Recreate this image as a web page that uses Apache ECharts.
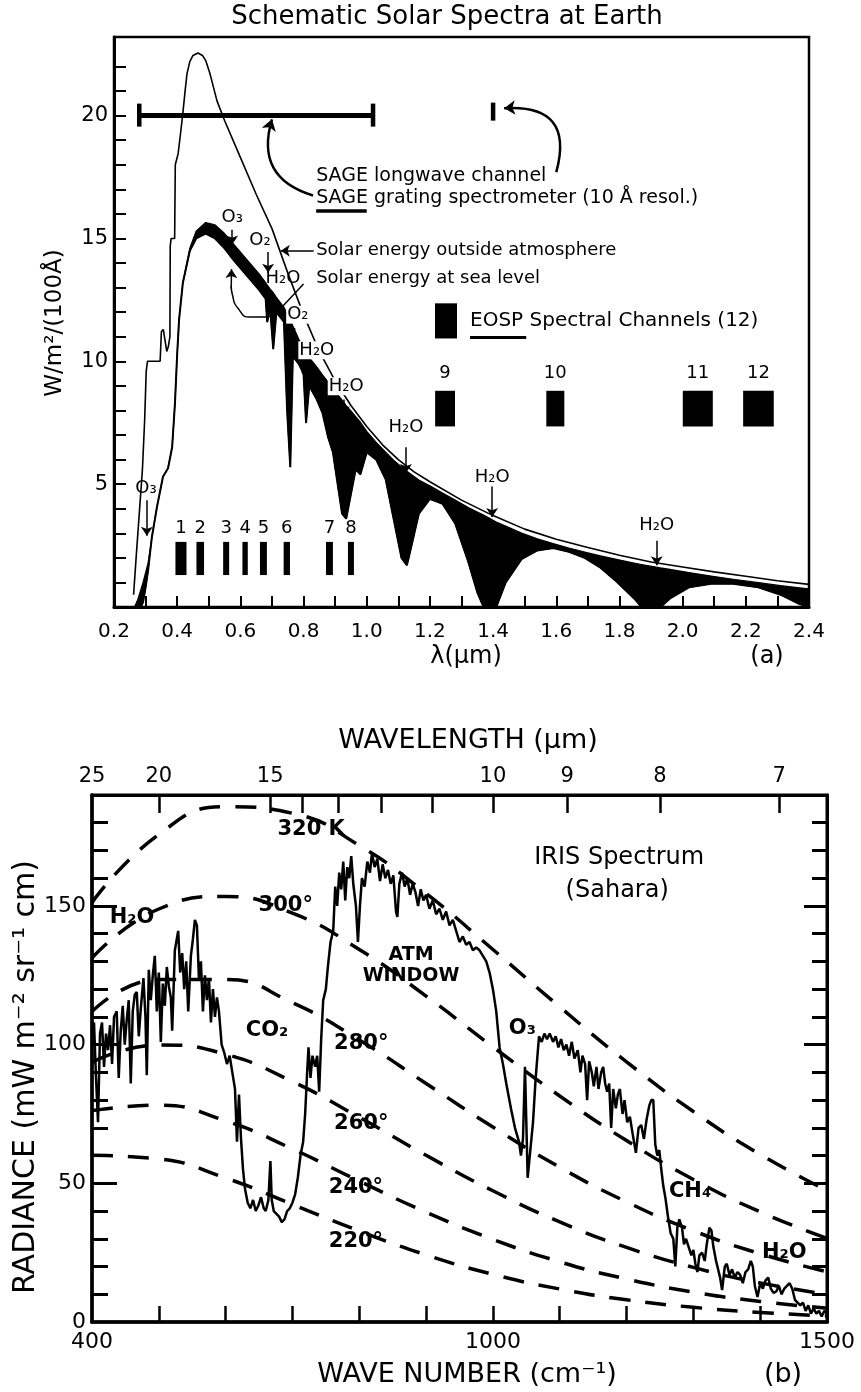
<!DOCTYPE html>
<html>
<head>
<meta charset="utf-8">
<script src="https://cdn.jsdelivr.net/npm/echarts@6.0.0/dist/echarts.min.js"></script>
<style>
html,body{margin:0;padding:0;background:#fff;}
#chart{width:861px;height:1392px;}
</style>
</head>
<body>
<div id="chart"></div>
<script>
// ================= Panel (a): Schematic Solar Spectra at Earth =================
const topXTicks = [0.3,0.4,0.5,0.6,0.7,0.8,0.9,1.0,1.1,1.2,1.3,1.4,1.5,1.6,1.7,1.8,1.9,2.0,2.1,2.2,2.3];
const topXLabels = [0.2,0.4,0.6,0.8,1.0,1.2,1.4,1.6,1.8,2.0,2.2,2.4];
const topYTicks = [1,2,3,4,5,6,7,8,9,10,11,12,13,14,15,16,17,18,19,20,21,22];
const topYLabels = [5,10,15,20];

// solar energy outside atmosphere [wavelength um, W/m2/100A]
const outsideAtmosphere = [
  [0.262,0.5],[0.270,2.0],[0.280,3.8],[0.290,5.6],[0.297,7.6],[0.302,9.6],[0.306,10.0],[0.346,10.0],
  [0.350,11.2],[0.356,11.3],[0.362,11.3],[0.367,10.4],[0.372,10.6],[0.377,11.0],[0.378,14.7],[0.381,15.0],
  [0.392,15.0],[0.394,18.0],[0.403,18.45],[0.410,19.2],[0.418,20.1],[0.425,21.0],[0.431,21.7],[0.440,22.2],
  [0.450,22.45],[0.466,22.55],[0.480,22.45],[0.490,22.25],[0.504,21.7],[0.526,20.6],[0.55,19.8],[0.60,18.3],
  [0.65,16.8],[0.70,15.4],[0.75,13.6],[0.80,11.9],[0.85,10.4],[0.90,9.2],[0.95,8.2],[1.00,7.35],[1.05,6.6],
  [1.10,6.0],[1.15,5.5],[1.20,5.1],[1.30,4.35],[1.40,3.72],[1.50,3.17],[1.60,2.76],[1.70,2.42],[1.80,2.11],
  [1.90,1.83],[2.00,1.63],[2.10,1.43],[2.20,1.25],[2.30,1.07],[2.40,0.92]
];

// solar energy at sea level: [wavelength, sea-level value, unabsorbed envelope]
const seaLevelSpectrum = [
  [0.265,0,0],[0.275,0,0.3],[0.285,0,0.7],[0.292,0.2,1.0],[0.300,0.8,1.4],[0.308,1.5,1.8],[0.315,2.3,2.4],
  [0.320,2.85,2.85],[0.336,4.07,4.07],[0.355,5.3,5.3],[0.371,5.65,5.65],[0.384,6.5,6.5],[0.393,8.3,8.3],
  [0.400,10.3,10.3],[0.406,11.7,11.7],[0.418,13.2,13.2],[0.440,14.5,14.6],[0.460,15.0,15.3],[0.490,15.2,15.65],
  [0.520,15.0,15.55],[0.550,14.6,15.2],[0.580,14.1,14.75],[0.620,13.5,14.15],[0.660,12.9,13.55],[0.680,12.55,13.2],
  [0.685,11.6,13.1],[0.694,12.2,12.95],[0.704,10.5,12.8],[0.714,12.0,12.6],[0.738,11.6,12.2],[0.748,8.0,11.95],
  [0.758,5.7,11.7],[0.766,10.2,11.45],[0.785,9.9,10.9],[0.800,9.5,10.55],[0.808,7.5,10.35],[0.818,9.0,10.15],
  [0.840,8.5,9.8],[0.860,7.9,9.45],[0.878,6.9,9.15],[0.893,6.3,8.9],[0.908,5.0,8.65],[0.922,3.8,8.42],
  [0.935,3.6,8.2],[0.950,4.6,7.98],[0.965,5.6,7.75],[0.980,5.4,7.52],[1.000,6.3,7.15],[1.030,6.0,6.7],
  [1.060,5.2,6.3],[1.085,3.6,5.98],[1.110,2.0,5.7],[1.127,1.7,5.53],[1.140,2.4,5.4],[1.165,3.8,5.17],
  [1.200,4.4,4.93],[1.240,4.2,4.64],[1.280,3.4,4.35],[1.320,1.9,4.06],[1.350,0.6,3.87],[1.370,0,3.74],
  [1.410,0,3.46],[1.440,1.0,3.29],[1.490,1.95,3.01],[1.540,2.3,2.78],[1.590,2.4,2.58],[1.640,2.25,2.4],
  [1.690,2.0,2.24],[1.740,1.6,2.08],[1.790,1.05,1.94],[1.850,0.3,1.78],[1.870,0,1.73],[1.930,0,1.59],
  [1.960,0.35,1.53],[2.020,0.8,1.4],[2.090,0.95,1.26],[2.160,0.95,1.13],[2.240,0.8,0.99],[2.310,0.5,0.87],
  [2.370,0.12,0.78],[2.400,0,0.74]
];

// EOSP spectral channels
const eospChannels = [1,2,3,4,5,6,7,8,9,10,11,12];
const eospCenter = [0.412,0.473,0.555,0.615,0.673,0.747,0.882,0.95,1.248,1.597,2.048,2.24];
const eospWidth = [0.035,0.024,0.019,0.017,0.022,0.02,0.022,0.019,0.063,0.057,0.095,0.097];

// SAGE channels
const sageGrating = [[0.28, 1.02, 20]];   // [start, end, level]
const sageLongwave = [[1.40, 20]];

// ================= Panel (b): IRIS spectrum (Sahara) =================
const bottomXTicks = [500,600,700,800,900,1000,1100,1200,1300,1400];
const bottomXLabels = [400,1000,1500];
const bottomYMinorTicks = [10,20,30,40,60,70,80,90,110,120,130,140,160,170,180];
const bottomYMajorTicks = [50,100,150];
const bottomYLabels = [0,50,100,150];
const wavelengthTicks = [20,15,14,13,12,11,10,9,8,7];     // micrometres
const wavelengthLabels = [25,20,15,10,9,8,7];

const bbWavenumber = [400,500,600,700,800,900,1000,1100,1200,1300,1400,1500];
const bb220 = [60.1,58.8,51.9,42.4,32.8,24.2,17.2,11.9,8.0,5.3,3.45,2.2];
const bb240 = [76.2,78.2,72.5,62.4,50.8,39.6,29.8,21.7,15.5,10.8,7.4,5.0];
const bb260 = [93.6,99.9,96.5,86.7,73.8,60.1,47.3,36.1,26.9,19.7,14.1,10.0];
const bb280 = [111.9,123.5,123.5,115.1,101.7,86.0,70.3,55.8,43.3,32.9,24.6,18.1];
const bb300 = [131.2,148.9,153.4,147.4,134.3,117.5,99.2,81.5,65.4,51.4,39.7,30.2];
const bb320 = [151.2,175.8,185.8,183.4,171.8,154.5,134.3,113.6,93.8,75.9,60.4,47.4];

// IRIS radiance [wavenumber cm-1, mW m-2 sr-1 cm]
const irisSpectrum = [
  [400,100],[403,108],[406,88],[409,72],[412,104],[415,108],[418,92],[421,104],[424,98],[427,107],[430,93],
  [433,110],[437,112],[440,88],[443,105],[446,114],[449,100],[452,109],[455,116],[458,86],[461,112],[464,118],
  [467,119],[470,103],[473,113],[477,124],[480,110],[482,89],[485,127],[488,116],[491,125],[494,132],[497,112],
  [500,126],[503,101],[506,122],[509,114],[512,128],[515,121],[518,117],[520,105],[524,134],[529,141],[532,126],
  [535,133],[538,120],[541,130],[544,112],[548,132],[551,138],[554,145],[557,143],[560,124],[563,130],[566,112],
  [569,125],[572,116],[575,124],[578,108],[581,120],[584,110],[587,117],[590,112],[594,100],[598,97],[602,93],
  [606,96],[610,90],[614,84],[617,65],[620,82],[623,66],[626,55],[629,48],[633,43],[637,41],[641,44],[645,40],
  [649,42],[653,45],[657,41],[660,40],[664,44],[667,58],[669,44],[672,40],[676,39],[680,38],[684,36],[688,37],
  [692,40],[696,41],[700,43],[704,46],[708,52],[712,60],[716,65],[719,75],[722,90],[724,99],[727,88],[730,96],
  [734,92],[737,96],[740,83],[743,102],[746,116],[750,120],[753,128],[757,137],[761,141],[764,157],[767,150],
  [770,162],[773,156],[776,166],[779,152],[782,164],[785,160],[788,168],[791,158],[795,150],[798,137],[801,150],
  [804,160],[808,157],[812,166],[816,162],[819,169],[823,164],[827,167],[831,159],[835,165],[839,160],[843,163],
  [847,158],[851,161],[855,148],[857,146],[860,158],[864,162],[868,157],[872,160],[876,154],[880,158],[884,155],
  [888,150],[892,156],[896,152],[900,154],[905,149],[910,152],[915,147],[920,149],[925,145],[930,148],[935,143],
  [940,145],[945,141],[950,137],[955,139],[960,136],[965,137],[970,134],[975,135],[980,134],[985,132],[990,130],
  [995,126],[1000,120],[1005,112],[1010,99],[1015,93],[1020,86],[1027,77],[1033,70],[1039,65],[1042,60],[1045,66],
  [1048,92],[1052,52],[1056,62],[1060,72],[1064,88],[1069,103],[1073,101],[1077,104],[1081,102],[1085,104],
  [1090,101],[1094,103],[1098,99],[1102,102],[1106,98],[1110,100],[1114,96],[1118,101],[1122,95],[1127,98],
  [1131,90],[1134,96],[1138,93],[1141,80],[1144,94],[1148,90],[1151,85],[1155,92],[1158,84],[1162,90],[1165,92],
  [1168,86],[1171,83],[1174,86],[1177,70],[1180,84],[1184,77],[1187,82],[1190,84],[1194,75],[1197,80],[1201,72],
  [1205,74],[1209,68],[1214,61],[1218,70],[1222,71],[1226,66],[1230,73],[1234,78],[1237,80],[1240,80],[1243,64],
  [1246,60],[1249,62],[1252,55],[1255,49],[1258,45],[1262,38],[1266,32],[1270,30],[1273,20],[1276,34],[1279,37],
  [1283,34],[1286,28],[1289,30],[1293,27],[1297,24],[1300,26],[1303,21],[1306,18],[1309,24],[1313,25],[1317,22],
  [1320,28],[1324,34],[1327,33],[1330,27],[1334,22],[1337,19],[1340,16],[1343,11.5],[1347,20],[1350,21],[1354,17],
  [1358,19],[1362,16],[1366,18],[1370,17],[1374,14],[1378,18],[1382,19],[1386,22],[1389,20],[1392,13],[1396,9],
  [1400,14],[1404,12],[1408,15],[1412,16],[1416,12],[1420,10.5],[1424,11],[1428,13],[1432,10],[1436,12],[1440,13],
  [1444,14],[1448,12],[1452,8],[1456,7],[1460,6],[1464,7],[1468,4],[1472,6],[1476,3],[1480,5],[1484,3],[1488,4],
  [1492,2],[1496,4],[1500,3]
];

// ================= rendering =================
const FONT = "'DejaVu Sans', 'Liberation Sans', sans-serif";
const BLACK = '#000';

function zip(xs, ys) { return xs.map((x, i) => [x, ys[i]]); }

const topTexts = [
  {text:'SAGE longwave channel', x:0.84, y:17.56, style:{align:'left', fontSize:19}},
  {text:'SAGE grating spectrometer (10 Å resol.)', x:0.84, y:16.63, style:{align:'left', fontSize:19}},
  {text:'Solar energy outside atmosphere', x:0.84, y:14.51, style:{align:'left'}},
  {text:'Solar energy at sea level', x:0.84, y:13.37, style:{align:'left'}},
  {text:'EOSP Spectral Channels (12)', x:1.327, y:11.63, style:{align:'left', fontSize:20}},
  {text:'O₃', x:0.574, y:15.85}, {text:'O₂', x:0.662, y:14.92}, {text:'H₂O', x:0.735, y:13.37},
  {text:'O₂', x:0.782, y:11.9, style:{bg:true}}, {text:'H₂O', x:0.842, y:10.45, style:{bg:true}},
  {text:'H₂O', x:0.935, y:8.98, style:{bg:true}},
  {text:'H₂O', x:1.124, y:7.32}, {text:'H₂O', x:1.397, y:5.28}, {text:'H₂O', x:1.918, y:3.33},
  {text:'O₃', x:0.301, y:4.84}
];
const topArrows = [
  [[0.574,15.35],[0.574,14.75]],
  [[0.688,14.45],[0.688,13.6]],
  [[0.832,14.5],[0.728,14.5]],
  [[0.772,11.35],[0.763,10.5]],
  [[0.812,9.95],[0.81,9.2]],
  [[0.928,8.45],[0.928,7.8]],
  [[1.124,6.5],[1.124,5.45]],
  [[1.397,4.9],[1.397,3.66]],
  [[1.918,2.7],[1.918,1.7]],
  [[0.304,4.35],[0.304,2.9]],
  [[0.571,12.95],[0.572,13.75]]
];
const topCurvedArrows = [
  {coords:[[0.83,16.75],[0.70,19.85]], curveness:0.5},
  {coords:[[1.6,17.7],[1.435,20.3]], curveness:-0.7}
];
const topPlainLines = [
  {coords:[[0.80,13.15],[0.72,12.05]], width:1.5},
  {coords:[[0.84,16.12],[1.0,16.12]], width:3.5},
  {coords:[[1.327,10.98],[1.505,10.98]], width:3},
  {coords:[[1.251,10.93],[1.251,12.36]], width:22}
];
const loopBody = [[0.72,12.05],[0.68,11.8],[0.63,11.8],[0.593,12.15],[0.575,12.7],[0.571,13.05]];

const bottomTexts = [
  {text:'320 K', x:728, y:177.5}, {text:'300°', x:690, y:150}, {text:'280°', x:803, y:100.4},
  {text:'260°', x:803, y:71.4}, {text:'240°', x:795, y:48.6}, {text:'220°', x:795, y:29},
  {text:'ATM\nWINDOW', x:877.5, y:128.6, style:{lineHeight:21, fontSize:19}},
  {text:'H₂O', x:460, y:145.7}, {text:'CO₂', x:662, y:105}, {text:'O₃', x:1044, y:105.8},
  {text:'CH₄', x:1295, y:47}, {text:'H₂O', x:1436, y:25},
  {text:'IRIS Spectrum', x:1189, y:167.4, style:{fontWeight:'normal', fontSize:24}},
  {text:'(Sahara)', x:1186, y:155.4, style:{fontWeight:'normal', fontSize:24}}
];

function gtext(text, x, y, size, rot) {
  return {
    type:'text', x:x, y:y, rotation: rot || 0, silent:true, z:100,
    style:{text:text, fill:BLACK, font: size + "px " + FONT,
      textAlign:'center', textVerticalAlign:'middle', align:'center', verticalAlign:'middle'}
  };
}

function textSeries(xi, yi, list, base) {
  return {
    type:'custom', xAxisIndex:xi, yAxisIndex:yi, silent:true, z:9,
    data: list.map(t => [t.x, t.y]),
    renderItem:function(params, api){
      const t = list[params.dataIndex];
      const s = Object.assign({}, base, t.style || {});
      const p = api.coord([api.value(0), api.value(1)]);
      const st = {text:t.text, fill:BLACK,
        font:(s.fontWeight || 'normal') + ' ' + s.fontSize + 'px ' + FONT,
        align:s.align || 'center', verticalAlign:'middle'};
      if (s.lineHeight) st.lineHeight = s.lineHeight;
      if (s.bg) { st.backgroundColor = '#fff'; st.padding = [0, 1]; }
      return {type:'text', x:p[0], y:p[1], style:st};
    }
  };
}

const bbSeries = [bb220, bb240, bb260, bb280, bb300, bb320].map(vals => ({
  type:'line', xAxisIndex:1, yAxisIndex:1, data: zip(bbWavenumber, vals), smooth:0.5,
  symbol:'none', silent:true, z:2,
  lineStyle:{color:BLACK, width:3.5, type:[21,15], cap:'butt'}
}));

const chart = echarts.init(document.getElementById('chart'), null, {renderer:'canvas'});
const option = {
  animation:false,
  backgroundColor:'#fff',
  textStyle:{fontFamily:FONT, color:BLACK},
  grid:[
    {left:114, right:52, top:37, height:570, show:true, borderColor:BLACK, borderWidth:2.5, backgroundColor:'rgba(0,0,0,0)'},
    {left:92, right:34, top:795, height:527, show:true, borderColor:BLACK, borderWidth:3, backgroundColor:'rgba(0,0,0,0)'}
  ],
  xAxis:[
    {gridIndex:0, type:'value', min:0.2, max:2.4, position:'bottom', z:10,
      axisLine:{onZero:false, lineStyle:{color:BLACK, width:3}},
      axisTick:{inside:true, length:11, customValues:topXTicks, lineStyle:{color:BLACK, width:2}},
      axisLabel:{customValues:topXLabels, formatter:v => v.toFixed(1), fontSize:20, color:BLACK, margin:15, fontFamily:FONT},
      splitLine:{show:false}},
    {gridIndex:1, type:'value', min:400, max:1500, position:'bottom',
      axisLine:{onZero:false, lineStyle:{color:BLACK, width:3.5}},
      axisTick:{inside:true, length:16, customValues:bottomXTicks, lineStyle:{color:BLACK, width:2.5}},
      axisLabel:{customValues:bottomXLabels, formatter:v => String(v), fontSize:22, color:BLACK, margin:9, fontFamily:FONT},
      splitLine:{show:false}},
    {gridIndex:1, type:'value', min:400, max:1500, position:'top',
      axisLine:{onZero:false, lineStyle:{color:BLACK, width:3}},
      axisTick:{inside:true, length:18, customValues:wavelengthTicks.map(l => 10000/l), lineStyle:{color:BLACK, width:2.5}},
      axisLabel:{customValues:wavelengthLabels.map(l => 10000/l), formatter:v => String(Math.round(10000/v)), fontSize:21, color:BLACK, margin:8, fontFamily:FONT},
      splitLine:{show:false}}
  ],
  yAxis:[
    {gridIndex:0, type:'value', min:0, max:23.2, position:'left',
      axisLine:{onZero:false, lineStyle:{color:BLACK, width:3}},
      axisTick:{inside:true, length:12, customValues:topYTicks, lineStyle:{color:BLACK, width:2}},
      axisLabel:{customValues:topYLabels, fontSize:21, color:BLACK, margin:6, fontFamily:FONT},
      splitLine:{show:false}},
    {gridIndex:1, type:'value', min:0, max:190, position:'left',
      axisLine:{onZero:false, lineStyle:{color:BLACK, width:3.5}},
      axisTick:{inside:true, length:25, customValues:bottomYMajorTicks, lineStyle:{color:BLACK, width:3}},
      axisLabel:{customValues:bottomYLabels, fontSize:22, color:BLACK, margin:6, fontFamily:FONT},
      splitLine:{show:false}},
    {gridIndex:1, type:'value', min:0, max:190, position:'left',
      axisLine:{show:false},
      axisTick:{inside:true, length:16, customValues:bottomYMinorTicks, lineStyle:{color:BLACK, width:3}},
      axisLabel:{show:false}, splitLine:{show:false}},
    {gridIndex:1, type:'value', min:0, max:190, position:'right',
      axisLine:{onZero:false, lineStyle:{color:BLACK, width:3}},
      axisTick:{inside:true, length:23, customValues:bottomYMajorTicks, lineStyle:{color:BLACK, width:3}},
      axisLabel:{show:false}, splitLine:{show:false}},
    {gridIndex:1, type:'value', min:0, max:190, position:'right',
      axisLine:{show:false},
      axisTick:{inside:true, length:15, customValues:bottomYMinorTicks, lineStyle:{color:BLACK, width:3}},
      axisLabel:{show:false}, splitLine:{show:false}}
  ],
  graphic:[
    gtext('Schematic Solar Spectra at Earth', 447, 17, 26),
    gtext('λ(μm)', 466, 657, 24),
    gtext('(a)', 767, 657, 24),
    gtext('W/m²/(100Å)', 55, 323, 23, Math.PI/2),
    gtext('WAVELENGTH (μm)', 468, 741, 27),
    gtext('RADIANCE (mW m⁻² sr⁻¹ cm)', 26, 1077, 30, Math.PI/2),
    gtext('WAVE NUMBER (cm⁻¹)', 467, 1375, 27),
    gtext('(b)', 783, 1375, 27)
  ],
  series:[
    // ---- panel (a) ----
    {type:'custom', name:'Absorbed', xAxisIndex:0, yAxisIndex:0, data:[[0.2, 0]], silent:true, z:3,
      renderItem:function(params, api){
        const upper = seaLevelSpectrum.map(d => api.coord([d[0], d[2]]));
        const lower = seaLevelSpectrum.map(d => api.coord([d[0], d[1]])).reverse();
        return {type:'polygon', shape:{points: upper.concat(lower)},
          style:{fill:BLACK, stroke:BLACK, lineWidth:1.2, lineJoin:'round'}};
      }},
    {type:'line', name:'Sea level', xAxisIndex:0, yAxisIndex:0,
      data: seaLevelSpectrum.map(d => [d[0], d[1]]), symbol:'none', silent:true, z:4,
      lineStyle:{color:BLACK, width:2}},
    {type:'line', name:'Outside atmosphere', xAxisIndex:0, yAxisIndex:0,
      data: outsideAtmosphere, symbol:'none', silent:true, z:4,
      lineStyle:{color:BLACK, width:1.6}},
    {type:'custom', name:'SAGE grating', xAxisIndex:0, yAxisIndex:0, data: sageGrating, silent:true, z:5,
      renderItem:function(params, api){
        const a = api.coord([api.value(0), api.value(2)]);
        const b = api.coord([api.value(1), api.value(2)]);
        return {type:'group', children:[
          {type:'line', shape:{x1:a[0], y1:a[1], x2:b[0], y2:b[1]}, style:{stroke:BLACK, lineWidth:5}},
          {type:'line', shape:{x1:a[0], y1:a[1]-12, x2:a[0], y2:a[1]+11}, style:{stroke:BLACK, lineWidth:4.5}},
          {type:'line', shape:{x1:b[0], y1:b[1]-12, x2:b[0], y2:b[1]+11}, style:{stroke:BLACK, lineWidth:4.5}}
        ]};
      }},
    {type:'custom', name:'SAGE longwave', xAxisIndex:0, yAxisIndex:0, data: sageLongwave, silent:true, z:5,
      renderItem:function(params, api){
        const a = api.coord([api.value(0), api.value(1)]);
        return {type:'line', shape:{x1:a[0], y1:a[1]-13, x2:a[0], y2:a[1]+5}, style:{stroke:BLACK, lineWidth:4.5}};
      }},
    {type:'custom', name:'EOSP', xAxisIndex:0, yAxisIndex:0, silent:true, z:6,
      data: eospChannels.map((ch, i) => [eospCenter[i], eospWidth[i], ch]),
      renderItem:function(params, api){
        const c = api.value(0), w = api.value(1), ch = api.value(2);
        const lo = ch <= 8 ? 1.3 : 7.35, hi = ch <= 8 ? 2.65 : 8.8, lab = ch <= 8 ? 3.2 : 9.5;
        const p0 = api.coord([c - w/2, hi]), p1 = api.coord([c + w/2, lo]), t = api.coord([c, lab]);
        return {type:'group', children:[
          {type:'rect', shape:{x:p0[0], y:p0[1], width:p1[0]-p0[0], height:p1[1]-p0[1]}, style:{fill:BLACK}},
          {type:'text', x:t[0], y:t[1], style:{text:String(ch), fill:BLACK, font:'18px ' + FONT, align:'center', verticalAlign:'middle'}}
        ]};
      }},
    {type:'lines', coordinateSystem:'cartesian2d', xAxisIndex:0, yAxisIndex:0, silent:true, z:7,
      symbol:['none','arrow'], symbolSize:9,
      lineStyle:{color:BLACK, width:1.5, opacity:1},
      data: topArrows.map(c => ({coords:c}))},
    {type:'lines', coordinateSystem:'cartesian2d', xAxisIndex:0, yAxisIndex:0, silent:true, z:7,
      symbol:['none','arrow'], symbolSize:11,
      lineStyle:{color:BLACK, width:2.5, opacity:1},
      data: topCurvedArrows.map(a => ({coords:a.coords, lineStyle:{curveness:a.curveness}}))},
    {type:'lines', coordinateSystem:'cartesian2d', xAxisIndex:0, yAxisIndex:0, silent:true, z:7,
      symbol:'none', lineStyle:{color:BLACK, opacity:1, cap:'butt'},
      data: topPlainLines.map(a => ({coords:a.coords, lineStyle:{width:a.width, color:BLACK, opacity:1}}))},
    {type:'line', xAxisIndex:0, yAxisIndex:0, data: loopBody, smooth:0.6, symbol:'none', silent:true, z:7,
      lineStyle:{color:BLACK, width:1.5}},
    textSeries(0, 0, topTexts, {fontSize:18}),
    // ---- panel (b) ----
    ...bbSeries,
    {type:'line', name:'IRIS', xAxisIndex:1, yAxisIndex:1, data: irisSpectrum, symbol:'none', silent:true, z:4,
      lineStyle:{color:BLACK, width:2.5}},
    textSeries(1, 1, bottomTexts, {fontSize:21, fontWeight:'bold'})
  ]
};
chart.setOption(option);
</script>
</body>
</html>
